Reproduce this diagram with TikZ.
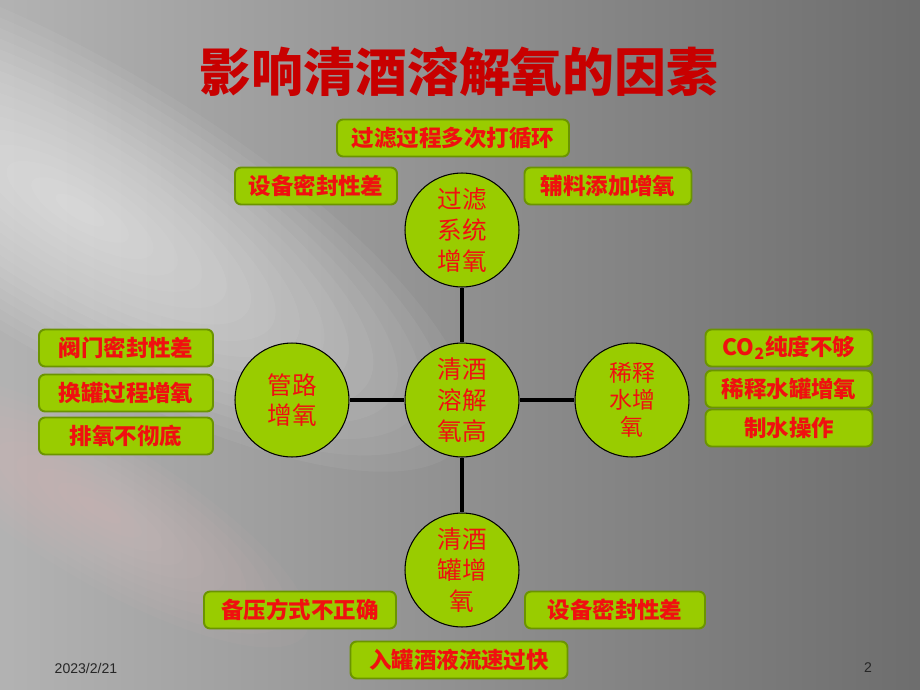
\documentclass[tikz,border=0pt]{standalone}
\usepackage{fontspec}
\setmainfont{Liberation Sans}
\newfontfamily\cjk{Noto Sans CJK SC}
\usepackage{tikz}
\usepackage{xcolor}
\definecolor{leaf}{HTML}{99CC00}
\definecolor{leafdark}{HTML}{6B9400}
\definecolor{wordred}{HTML}{F01010}
\definecolor{titlered}{HTML}{C80000}

\begin{document}
\begin{tikzpicture}[x=0.02cm,y=-0.02cm,
    ball/.style={circle,draw=black,line width=0.6pt,fill=leaf,minimum size=2.28cm,inner sep=0pt,align=center,text=wordred,font=\cjk\fontsize{14}{17.5}\selectfont},
    tag/.style={rectangle,rounded corners=0.12cm,draw=leafdark,line width=1.1pt,fill=leaf,minimum height=0.74cm,inner sep=0pt,text=wordred,font=\cjk\bfseries\fontsize{12.8}{14}\selectfont},
    link/.style={line width=2.8pt,black}]
            % background
            \useasboundingbox (0,0) rectangle (920,690);
            \shade[left color=black!30,right color=black!57] (0,0) rectangle (920,690);
            \begin{scope}
                \clip (0,0) rectangle (920,690);
                \foreach \i in {1,...,16}
                    \fill[white,opacity=0.05,rotate around={-31:(80,210)}] (80,210) ellipse [x radius=28*\i,y radius=9*\i];
                \foreach \i in {1,...,10}
                    \fill[red!20!white,opacity=0.035,rotate around={-31:(100,510)}] (100,510) ellipse [x radius=24*\i,y radius=7*\i];
            \end{scope}

            \node (title) at (459,72) [text=titlered,font=\cjk\bfseries\fontsize{29.5}{32}\selectfont] {影响清酒溶解氧的因素};

            \node (core) at (462,400) [ball] {清酒\\溶解\\氧高};
            \node (filt) at (462,230) [ball] {过滤\\系统\\增氧};
            \node (pipe) at (292,400) [ball] {管路\\增氧};
            \node (water) at (632,400) [ball,font=\cjk\fontsize{13}{15.5}\selectfont] {稀释\\水增\\氧};
            \node (tank) at (462,570) [ball] {清酒\\罐增\\氧};

            \draw[link] (core) -- (filt) (core) -- (pipe) (core) -- (water) (core) -- (tank);

            \node (f1) at (453,138) [tag,minimum width=4.64cm] {过滤过程多次打循环};
            \node (f2) at (316,186) [tag,minimum width=3.24cm] {设备密封性差};
            \node (f3) at (608,186) [tag,minimum width=3.34cm] {辅料添加增氧};
            \node (p1) at (126,348) [tag,minimum width=3.48cm] {阀门密封性差};
            \node (p2) at (126,393) [tag,minimum width=3.48cm] {换罐过程增氧};
            \node (p3) at (126,436) [tag,minimum width=3.48cm] {排氧不彻底};
            \node (w1) at (789,348) [tag,minimum width=3.34cm] {CO\textsubscript{2}纯度不够};
            \node (w2) at (789,389) [tag,minimum width=3.34cm] {稀释水罐增氧};
            \node (w3) at (789,428) [tag,minimum width=3.34cm] {制水操作};
            \node (t1) at (300,610) [tag,minimum width=3.84cm] {备压方式不正确};
            \node (t2) at (615,610) [tag,minimum width=3.6cm] {设备密封性差};
            \node (t3) at (459,660) [tag,minimum width=4.34cm] {入罐酒液流速过快};

            \node (date) at (86,668) [text=black!85,font=\fontsize{8}{9}\selectfont] {2023/2/21};
            \node (page) at (868,668) [text=black!85,font=\fontsize{8}{9}\selectfont] {2};
        \end{tikzpicture}
\end{document}
